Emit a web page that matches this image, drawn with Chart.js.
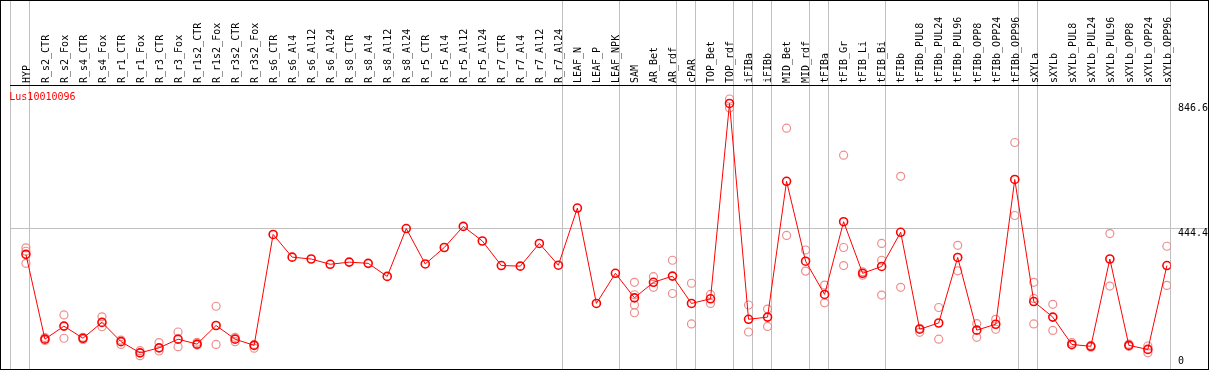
<!DOCTYPE html>
<html><head><meta charset="utf-8">
<script src="https://cdn.jsdelivr.net/npm/chart.js@4"></script>
<style>
html,body{margin:0;padding:0;background:#fff;}
#wrap{position:relative;width:1209px;height:370px;border:1px solid #000;box-sizing:border-box;}
canvas{display:block;}
</style></head><body>
<div id="wrap"><canvas id="c" width="1207" height="368"></canvas></div>
<script>
const geneId = 'Lus10010096';
const categories = ['HYP','R_s2_CTR','R_s2_Fox','R_s4_CTR','R_s4_Fox','R_r1_CTR','R_r1_Fox','R_r3_CTR','R_r3_Fox','R_r1s2_CTR','R_r1s2_Fox','R_r3s2_CTR','R_r3s2_Fox','R_s6_CTR','R_s6_Al4','R_s6_Al12','R_s6_Al24','R_s8_CTR','R_s8_Al4','R_s8_Al12','R_s8_Al24','R_r5_CTR','R_r5_Al4','R_r5_Al12','R_r5_Al24','R_r7_CTR','R_r7_Al4','R_r7_Al12','R_r7_Al24','LEAF_N','LEAF_P','LEAF_NPK','SAM','AR_Bet','AR_rdf','cPAR','TOP_Bet','TOP_rdf','iFIBa','iFIBb','MID_Bet','MID_rdf','tFIBa','tFIB_Gr','tFIB_Li','tFIB_Bi','tFIBb','tFIBb_PUL8','tFIBb_PUL24','tFIBb_PUL96','tFIBb_OPP8','tFIBb_OPP24','tFIBb_OPP96','sXYLa','sXYLb','sXYLb_PUL8','sXYLb_PUL24','sXYLb_PUL96','sXYLb_OPP8','sXYLb_OPP24','sXYLb_OPP96'];
const meanValues = [361,88,130,91,142,80,44,60,88,72,132,88,68,425,352,346,329,336,332,290,444,330,383,451,404,325,323,396,326,510,203,300,221,271,291,203,218,846.6,152,159,596,339,232,466,300,322,432,120,140,351,117,136,602,209,159,71,65,346,68,55,325];
const replicateValues = [
  [382,371,332],[93,84],[166,91],[94,87],[160,128],[85,71],[51,35],[77,50],[111,64],[78,69],[194,71],[94,80],[71,59],
  [],[],[],[],[],[],[],[],[],[],[],[],[],[],[],[],[],[],[],
  [271,231,198,173],[289,255],[342,235],[268,137],[232,203],[861,832],[198,111],[185,129],[767,422],[375,307],[262,205],
  [680,383,325],[305,294],[396,342,230],[612,255],[123,110],[190,88],[390,308],[138,94],[152,120],[721,486],
  [271,219,137],[200,116],[77,69],[68,62],[428,259],[72,65],[66,44],[387,261]
];
const groupBreaks = [0,1,29,32,35,36,38,39,40,42,43,46,53,54,61];
const yTickValues = [0,444.4,846.6];
const yGridValues = [444.4];

const MONO = "'DejaVu Sans Mono', monospace";
const meanPoints = meanValues.map((v,i)=>({x:i,y:v}));
const repPoints = [];
replicateValues.forEach((arr,i)=>arr.forEach(v=>repPoints.push({x:i,y:v})));

const geneLabelPlugin = {
  id:'geneLabel',
  afterDatasetsDraw(chart){
    const {ctx, chartArea} = chart;
    ctx.save();
    ctx.font = "10px " + MONO;
    ctx.fillStyle = '#ff0000';
    ctx.textBaseline = 'middle';
    ctx.textAlign = 'left';
    ctx.fillText(chart.data.datasets[0].label, chartArea.left - 1.4, chartArea.top + 12);
    ctx.restore();
  }
};
function noPad(s){ s.paddingTop = 0; s.paddingBottom = 0; s.paddingLeft = 0; s.paddingRight = 0; }

new Chart(document.getElementById('c'), {
  type:'line',
  data:{datasets:[
    {label:geneId, data:meanPoints, borderColor:'#ff0000', borderWidth:1, tension:0, fill:false,
     pointRadius:4, pointHoverRadius:4, pointBorderWidth:1.6, pointBorderColor:'#ff0000', pointBackgroundColor:'rgba(0,0,0,0)'},
    {label:'replicates', data:repPoints, showLine:false, borderColor:'rgba(0,0,0,0)',
     pointRadius:4, pointHoverRadius:4, pointBorderWidth:1.2, pointBorderColor:'rgba(236,120,120,0.85)', pointBackgroundColor:'rgba(0,0,0,0)'}
  ]},
  plugins:[geneLabelPlugin],
  options:{
    responsive:false, animation:false, events:[],
    layout:{autoPadding:false, padding:{left:9.7, top:0, right:0, bottom:0}},
    plugins:{legend:{display:false}, tooltip:{enabled:false}},
    scales:{
      x:{type:'linear', position:'top', min:-0.8, max:categories.length-0.8,
        afterBuildTicks:s=>{ s.ticks = Array.from({length:categories.length+1},(_,k)=>({value:k-0.8})); },
        afterFit:s=>{ s.height = 84; noPad(s); },
        grid:{drawOnChartArea:true, drawTicks:true, tickLength:84, lineWidth:1,
          color:c=>groupBreaks.includes(c.index)?'#c0c0c0':'rgba(0,0,0,0)'},
        border:{display:true, color:'#000', width:1},
        ticks:{autoSkip:false, minRotation:90, maxRotation:90, padding:-82, labelOffset:28.4,
          font:{family:MONO, size:10, lineHeight:1.2}, color:'#000',
          callback:(v,i)=>categories[i] ?? ''}
      },
      y:{position:'right', min:-8, max:906,
        afterBuildTicks:s=>{ s.ticks = yTickValues.map(v=>({value:v})); },
        afterFit:s=>{ s.width = 37.3; noPad(s); },
        grid:{drawOnChartArea:true, drawTicks:true, tickLength:37, lineWidth:1,
          color:c=>(c.tick && yGridValues.includes(c.tick.value))?'#c0c0c0':'rgba(0,0,0,0)'},
        border:{display:false},
        ticks:{padding:-29.7, font:{family:MONO, size:10, lineHeight:1}, color:'#000',
          callback:(v,i)=> i===0 ? [String(v),''] : ['',String(v)]}
      }
    }
  }
});
</script>
</body></html>
